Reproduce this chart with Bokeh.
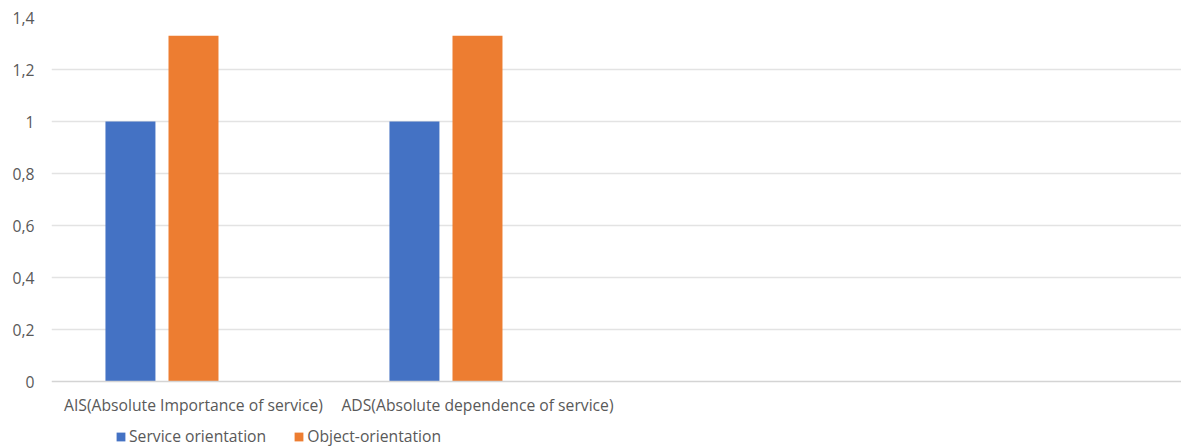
from bokeh.plotting import figure
from bokeh.models import (ColumnDataSource, Range1d, FixedTicker, Legend, LegendItem,
                          Span)
from bokeh.core.properties import value
from bokeh.transform import dodge
from bokeh.embed import file_html
from bokeh.resources import INLINE

# Data
categories = ["AIS(Absolute Importance of service)", "ADS(Absolute dependence of service)"]
service_orientation = [1.0, 1.0]
object_orientation = [1.33, 1.33]
y_ticks = [0, 0.2, 0.4, 0.6, 0.8, 1.0, 1.2, 1.4]
y_tick_labels = ["0", "0,2", "0,4", "0,6", "0,8", "1", "1,2", "1,4"]
series_names = ["Service orientation", "Object-orientation"]

FONT = "Open Sans"
FONT_SIZE = "15.7px"
TEXT_COLOR = "#595959"

# Layout: the plotting frame runs down to the figure bottom so that the
# category labels and the legend can sit beneath the zero line.
HEIGHT = 447
TOP = 17
PX_PER_UNIT = 260.0            # 0.2 per 52 px
Y_MAX = 1.4
y_min = Y_MAX - (HEIGHT - TOP) / PX_PER_UNIT
label_y = -23 / PX_PER_UNIT    # category labels, 23 px under the zero line

x_pos = [i + 0.5 for i in range(len(categories))]
src = ColumnDataSource(dict(x=x_pos, so=service_orientation, oo=object_orientation,
                            name=categories, ly=[label_y] * len(categories)))

p = figure(width=1181, height=HEIGHT, output_backend="svg", toolbar_location=None,
           x_range=Range1d(0, 3.979), y_range=Range1d(y_min, Y_MAX))
p.min_border_left = 51
p.min_border_right = 0
p.min_border_top = TOP
p.min_border_bottom = 0
p.outline_line_color = None
p.background_fill_color = "white"
p.border_fill_color = "white"

bar_w = 0.176
r1 = p.vbar(x=dodge("x", -0.222, range=p.x_range), top="so", width=bar_w, source=src,
            fill_color="#4472C4", line_color=None)
r2 = p.vbar(x=dodge("x", 0.0, range=p.x_range), top="oo", width=bar_w, source=src,
            fill_color="#ED7D31", line_color=None)

# Category labels under the baseline
p.text(x="x", y="ly", text="name", source=src, text_align="center",
       text_baseline="middle", text_font=value(FONT), text_font_size=FONT_SIZE,
       text_color=TEXT_COLOR)

# Axes
p.xaxis.visible = False

p.yaxis.ticker = FixedTicker(ticks=y_ticks)
p.yaxis.major_label_overrides = {t: l for t, l in zip(y_ticks, y_tick_labels)}
p.yaxis.axis_line_color = None
p.yaxis.major_tick_line_color = None
p.yaxis.minor_tick_line_color = None
p.yaxis.major_tick_in = 0
p.yaxis.major_tick_out = 0
p.yaxis.major_label_standoff = 17
p.yaxis.major_label_text_font = FONT
p.yaxis.major_label_text_font_size = FONT_SIZE
p.yaxis.major_label_text_color = TEXT_COLOR

p.xgrid.grid_line_color = None
p.ygrid.ticker = FixedTicker(ticks=y_ticks[1:])
p.ygrid.grid_line_color = "#E3E3E3"
p.ygrid.grid_line_width = 1.3

p.add_layout(Span(location=0, dimension="width", line_color="#D4D4D4", line_width=1.6))

legend = Legend(items=[LegendItem(label=series_names[0], renderers=[r1]),
                       LegendItem(label=series_names[1], renderers=[r2])],
                orientation="horizontal", location=(64, 0))
legend.padding = 0
legend.margin = 0
legend.border_line_color = None
legend.background_fill_alpha = 0
legend.glyph_width = 11
legend.glyph_height = 11
legend.label_standoff = 3
legend.spacing = 27
legend.label_height = 12
legend.label_text_font = FONT
legend.label_text_font_size = FONT_SIZE
legend.label_text_color = TEXT_COLOR
p.add_layout(legend, "center")

open("out.html", "w").write(file_html(p, INLINE))
